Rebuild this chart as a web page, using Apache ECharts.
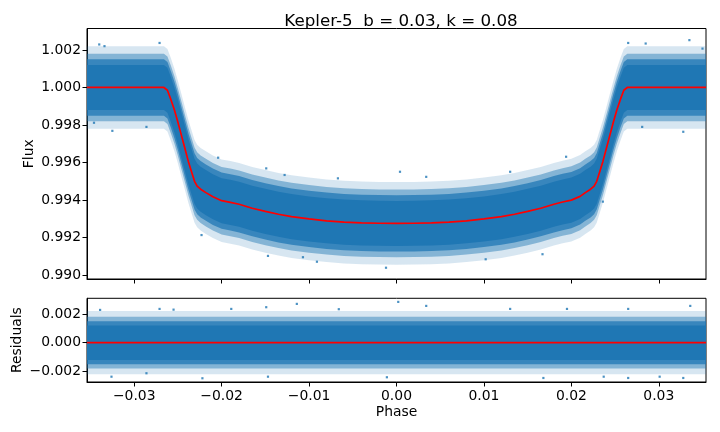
<!DOCTYPE html>
<html>
<head>
<meta charset="utf-8">
<script src="https://cdn.jsdelivr.net/npm/echarts@6/dist/echarts.min.js"></script>
</head>
<body style="margin:0">
<div id="main" style="width:720px;height:432px;"></div>

<script type="text/javascript">
// transit model (red curve)
var phase = [-0.0354, -0.0266, -0.0262, -0.0258, -0.0254, -0.0250, -0.0246, -0.0242, -0.0238, -0.0234, -0.0231,
	-0.0228, -0.0224, -0.0218, -0.0210, -0.0200, -0.0190, -0.0180, -0.0165, -0.0150, -0.0135, -0.0120,
	-0.0100, -0.0080, -0.0060, -0.0040, -0.0020, 0.0000, 0.0020, 0.0040, 0.0060, 0.0080, 0.0100,
	0.0120, 0.0135, 0.0150, 0.0165, 0.0180, 0.0190, 0.0200, 0.0210, 0.0216, 0.0222, 0.0226, 0.0229,
	0.0232, 0.0236, 0.0240, 0.0244, 0.0248, 0.0252, 0.0256, 0.0260, 0.0264, 0.0354];
var modelFlux = [1.00000, 1.00000, 0.99985, 0.99935, 0.99880, 0.99815, 0.99745, 0.99675, 0.99605, 0.99545, 0.99500,
	0.99475, 0.99458, 0.99440, 0.99418, 0.99397, 0.99388, 0.99378, 0.99357, 0.99340, 0.99325, 0.99312,
	0.99300, 0.99290, 0.99283, 0.99279, 0.99277, 0.99276, 0.99277, 0.99279, 0.99283, 0.99290, 0.99300,
	0.99312, 0.99325, 0.99340, 0.99357, 0.99378, 0.99390, 0.99400, 0.99420, 0.99440, 0.99458, 0.99475, 0.99500,
	0.99545, 0.99605, 0.99675, 0.99745, 0.99815, 0.99880, 0.99935, 0.99985, 1.00000, 1.00000];

// residual model (flat zero line)
var resPhase = [-0.0354, 0.0354];
var resModel = [0, 0];

// half widths of the point cloud around the model, from the dense core out to the sparse edge
var spread = [0.0012, 0.0015, 0.0018, 0.0022];

// stray points outside the cloud, [phase, flux]
var fluxOutliers = [[-0.0340, 1.00229], [-0.0334, 1.00220], [-0.0271, 1.00237], [-0.0325, 0.99769],
	[-0.0346, 0.99812], [-0.0286, 0.99790], [-0.0223, 0.99214], [-0.0147, 0.99103], [-0.0091, 0.99072],
	[-0.0067, 0.99516], [-0.0149, 0.99569], [-0.0204, 0.99626], [-0.0128, 0.99534], [-0.0107, 0.99096],
	[0.0265, 1.00237], [0.0285, 1.00234], [0.0335, 1.00252], [0.0350, 1.00207], [0.0328, 0.99764],
	[0.0281, 0.99790], [0.0004, 0.99551], [0.0034, 0.99524], [-0.0012, 0.99040], [0.0102, 0.99085],
	[0.0167, 0.99112], [0.0130, 0.99551], [0.0194, 0.99631], [0.0236, 0.99392]];
var resOutliers = [[-0.0339, 0.00228], [-0.0271, 0.00235], [-0.0255, 0.00230], [-0.0326, -0.00237],
	[-0.0222, -0.00248], [-0.0286, -0.00213], [-0.0189, 0.00235], [0.0336, 0.00256], [0.0265, 0.00235],
	[0.0195, 0.00235], [0.0130, 0.00235], [0.0168, -0.00246], [0.0265, -0.00246], [0.0237, -0.00237],
	[0.0301, -0.00237], [0.0328, -0.00246], [-0.0114, 0.00270], [0.0002, 0.00284], [-0.0149, 0.00247],
	[-0.0011, -0.00241], [-0.0147, -0.00237], [-0.0066, 0.00233], [0.0034, 0.00256]];

var xTicks = [-0.03, -0.02, -0.01, 0.00, 0.01, 0.02, 0.03];
var fluxTicks = [0.990, 0.992, 0.994, 0.996, 0.998, 1.000, 1.002];
var resTicks = [-0.002, 0.000, 0.002];

var blue = '#1f77b4';
var font = 'DejaVu Sans';
var myChart = echarts.init(document.getElementById('main'));

function minus(s) {
	return s.replace('-', '\u2212');
}

// filled band between lo and hi, drawn as one polygon through the axes
function band(xi, xs, lo, hi, fill) {
	var data = xs.map(function (p, i) { return [p, lo[i], hi[i]]; });
	return {
		type: 'custom',
		xAxisIndex: xi,
		yAxisIndex: xi,
		silent: true,
		data: data,
		encode: { x: 0, y: [1, 2] },
		renderItem: function (params, api) {
			if (params.dataIndex !== 0) return null;
			var top = data.map(function (d) { return api.coord([d[0], d[2]]); });
			var bot = data.map(function (d) { return api.coord([d[0], d[1]]); }).reverse();
			return { type: 'polygon', shape: { points: top.concat(bot) }, style: { fill: fill } };
		}
	};
}

// core to edge, layered so the alphas pile up toward the middle
var fills = [blue, 'rgba(31,119,180,0.75)', 'rgba(31,119,180,0.45)', 'rgba(31,119,180,0.18)'];
var series = [];
[3, 2, 1, 0].forEach(function (k) {
	series.push(band(0, phase,
		modelFlux.map(function (f) { return f - spread[k]; }),
		modelFlux.map(function (f) { return f + spread[k]; }), fills[k]));
	series.push(band(1, resPhase,
		resModel.map(function (f) { return f - spread[k]; }),
		resModel.map(function (f) { return f + spread[k]; }), fills[k]));
});
series.push({
	type: 'scatter', xAxisIndex: 0, yAxisIndex: 0, silent: true,
	symbol: 'rect', symbolSize: 2.2, itemStyle: { color: blue },
	data: fluxOutliers
});
series.push({
	type: 'scatter', xAxisIndex: 1, yAxisIndex: 1, silent: true,
	symbol: 'rect', symbolSize: 2.2, itemStyle: { color: blue },
	data: resOutliers
});
series.push({
	type: 'line', xAxisIndex: 0, yAxisIndex: 0, silent: true, showSymbol: false,
	lineStyle: { color: '#ff0000', width: 1.7 },
	data: phase.map(function (p, i) { return [p, modelFlux[i]]; })
});
series.push({
	type: 'line', xAxisIndex: 1, yAxisIndex: 1, silent: true, showSymbol: false,
	lineStyle: { color: '#ff0000', width: 1.7 },
	data: resPhase.map(function (p, i) { return [p, resModel[i]]; })
});

function xAxis(gi, labels) {
	return {
		type: 'value', gridIndex: gi, min: -0.0354, max: 0.0354,
		splitLine: { show: false },
		axisLine: { show: true, onZero: false, lineStyle: { color: '#000', width: 1 } },
		axisTick: { show: true, length: 4.5, customValues: xTicks, lineStyle: { color: '#000' } },
		axisLabel: {
			show: labels, customValues: xTicks, margin: 7.5, color: '#000', fontSize: 13.9, fontFamily: font,
			formatter: function (v) { return minus(Math.abs(v) < 1e-9 ? '0.00' : v.toFixed(2)); }
		},
		name: labels ? 'Phase' : '', nameLocation: 'middle', nameGap: 23, nameMoveOverlap: false,
		nameTextStyle: { color: '#000', fontSize: 13.9, fontFamily: font }
	};
}

function yAxis(gi, min, max, ticks, name, gap) {
	return {
		type: 'value', gridIndex: gi, min: min, max: max,
		splitLine: { show: false },
		axisLine: { show: true, onZero: false, lineStyle: { color: '#000', width: 1 } },
		axisTick: { show: true, length: 4.5, customValues: ticks, lineStyle: { color: '#000' } },
		axisLabel: {
			customValues: ticks, margin: 6, color: '#000', fontSize: 13.9, fontFamily: font,
			formatter: function (v) { return minus(Math.abs(v) < 1e-9 ? '0.000' : v.toFixed(3)); }
		},
		name: name, nameLocation: 'middle', nameGap: gap, nameMoveOverlap: false,
		nameTextStyle: { color: '#000', fontSize: 13.9, fontFamily: font }
	};
}

option = {
	animation: false,
	backgroundColor: '#fff',
	title: {
		text: 'Kepler-5  b = 0.03, k = 0.08',
		left: 396, top: 8, textAlign: 'center',
		textStyle: { color: '#000', fontSize: 16.7, fontWeight: 'normal', fontFamily: font }
	},
	grid: [
		{ left: 87, right: 14, top: 28.5, height: 250.5, show: true, borderColor: '#000', borderWidth: 1 },
		{ left: 87, right: 14, top: 298.3, height: 83.7, show: true, borderColor: '#000', borderWidth: 1 }
	],
	xAxis: [xAxis(0, false), xAxis(1, true)],
	yAxis: [
		yAxis(0, 0.98980, 1.00314, fluxTicks, 'Flux', 51),
		yAxis(1, -0.00274, 0.00309, resTicks, 'Residuals', 63)
	],
	series: series
};

myChart.setOption(option);
</script>
</body>
</html>
